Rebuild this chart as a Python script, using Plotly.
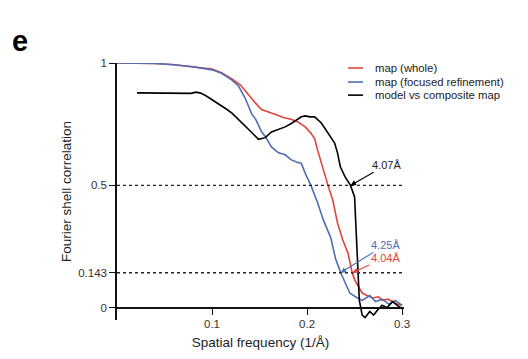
import plotly.graph_objects as go

# ---- data ----
whole_x = [0, .02, .04, .06, .08, .1, .11, .121, .13, .139, .146, .152, .16, .167, .175, .183, .19,
           .198, .204, .208, .211, .215, .219, .222, .227, .232, .2375, .243, .2475, .25, .253, .258,
           .263, .269, .275, .279, .285, .29, .295, .3]
whole_y = [1, 1, .998, .993, .985, .975, .96, .935, .91, .865, .835, .81, .80, .79, .777, .77, .76,
           .739, .714, .69, .645, .59, .53, .50, .44, .347, .278, .224, .143, .115, .094, .06,
           .05, .04, .045, .03, .035, .025, .015, .01]

focused_x = [0, .02, .04, .06, .08, .1, .11, .115, .121, .128, .135, .142, .146, .152, .156, .1625,
             .17, .177, .183, .19, .194, .198, .204, .211, .217, .225, .23, .2354, .24, .245, .251,
             .258, .266, .272, .279, .286, .293, .3]
focused_y = [1, 1, .998, .993, .985, .972, .958, .945, .93, .905, .855, .79, .77, .72, .70, .657,
             .633, .625, .605, .594, .59, .55, .50, .43, .36, .285, .2, .143, .10, .06, .045,
             .03, .05, .025, .035, .015, .03, .01]

model_x = [.021, .04, .06, .078, .083, .088, .094, .1, .107, .115, .121, .128, .135, .142, .149, .156,
           .1625, .17, .177, .183, .19, .194, .198, .203, .208, .215, .222, .229, .232, .235, .24,
           .2457, .25, .252, .253, .255, .258, .261, .266, .27, .274, .279, .284, .29, .295, .3]
model_y = [.878, .878, .877, .876, .881, .877, .865, .85, .835, .812, .795, .767, .743, .715, .688,
           .695, .718, .73, .739, .752, .772, .78, .784, .78, .78, .755, .714, .673, .633, .576,
           .535, .50, .453, .306, .2, .03, -.03, -.04, -.015, -.03, -.01, .01, 0, .025, .01, -.005]

series_names = ["map (whole)", "map (focused refinement)", "model vs composite map"]
series_colors = ["#e0443c", "#4f6db3", "#000000"]

thresholds = [0.5, 0.143]
x_ticks = [0.1, 0.2, 0.3]
x_tick_labels = ["0.1", "0.2", "0.3"]
y_ticks = [0, 0.143, 0.5, 1]
y_tick_labels = ["0", "0.143", "0.5", "1"]

# resolution labels: (text, x at crossing, y threshold, colour index, label x, label y)
res_labels = [("4.07Å", 1 / 4.07, 0.5, 2, 0.284, 0.584),
              ("4.25Å", 1 / 4.25, 0.143, 1, 0.2823, 0.257),
              ("4.04Å", 1 / 4.04, 0.143, 0, 0.2823, 0.204)]

FONT = "Arial, Liberation Sans, Helvetica, sans-serif"
X_RANGE = [0, 0.302]
Y_RANGE = [-0.05, 1.0]

fig = go.Figure()
for xs, ys, name, col in zip([whole_x, focused_x, model_x], [whole_y, focused_y, model_y],
                             series_names, series_colors):
    fig.add_trace(go.Scatter(x=xs, y=ys, mode="lines", name=name, showlegend=False,
                             line=dict(color=col, width=1.6)))

# dotted threshold lines
for t in thresholds:
    fig.add_shape(type="line", xref="x", yref="y", x0=0, x1=0.3, y0=t, y1=t,
                  line=dict(color="#222222", width=1.4, dash="dot"))

# resolution annotations
for text, xc, yc, ci, lx, ly in res_labels:
    fig.add_annotation(x=xc, y=yc, ax=lx, ay=ly, axref="x", ayref="y", xref="x", yref="y",
                       text=text, showarrow=True, arrowhead=2, arrowsize=1, arrowwidth=1.1,
                       arrowcolor=series_colors[ci], standoff=0,
                       font=dict(family=FONT, size=11, color=series_colors[ci] if ci != 2 else "#222"))

# manual legend
leg_x0, leg_x1, leg_tx = 0.805, 0.857, 0.892
leg_ys = [0.9805, 0.926, 0.875]
for name, col, ly in zip(series_names, series_colors, leg_ys):
    fig.add_shape(type="line", xref="paper", yref="paper", x0=leg_x0, x1=leg_x1, y0=ly, y1=ly,
                  line=dict(color=col, width=1.6))
    fig.add_annotation(xref="paper", yref="paper", x=leg_tx, y=ly, text=name, showarrow=False,
                       xanchor="left", yanchor="middle",
                       font=dict(family=FONT, size=11.3, color="#222"))

# panel letter
fig.add_annotation(xref="paper", yref="paper", x=-0.338, y=1.086, text="<b>e</b>", showarrow=False,
                   xanchor="center", yanchor="middle", font=dict(family=FONT, size=29, color="#000"))

zero_pos = (0 - Y_RANGE[0]) / (Y_RANGE[1] - Y_RANGE[0])

fig.update_layout(
    width=528, height=359,
    margin=dict(l=117, r=124, t=63, b=39, autoexpand=False),
    plot_bgcolor="white", paper_bgcolor="white",
    font=dict(family=FONT, size=11.5, color="#333"),
    xaxis=dict(range=X_RANGE, tickvals=x_ticks, ticktext=x_tick_labels, showgrid=False,
               zeroline=False, showline=True, linecolor="#111", linewidth=1.5,
               ticks="outside", ticklen=6, tickwidth=1.3, tickcolor="#111",
               anchor="free", position=zero_pos, automargin=False,
               title=dict(text="Spatial frequency (1/Å)", font=dict(size=13.5, color="#222"),
                          standoff=7)),
    yaxis=dict(range=Y_RANGE, tickvals=y_ticks, ticktext=y_tick_labels, showgrid=False,
               zeroline=False, showline=True, linecolor="#111", linewidth=1.5,
               ticks="outside", ticklen=6, tickwidth=1.3, tickcolor="#111", automargin=False,
               title=dict(text="Fourier shell correlation", font=dict(size=13.5, color="#222"),
                          standoff=3)),
)

fig.write_html("out.html", config={"displayModeBar": False},
               post_script="document.body.style.margin='0';")
